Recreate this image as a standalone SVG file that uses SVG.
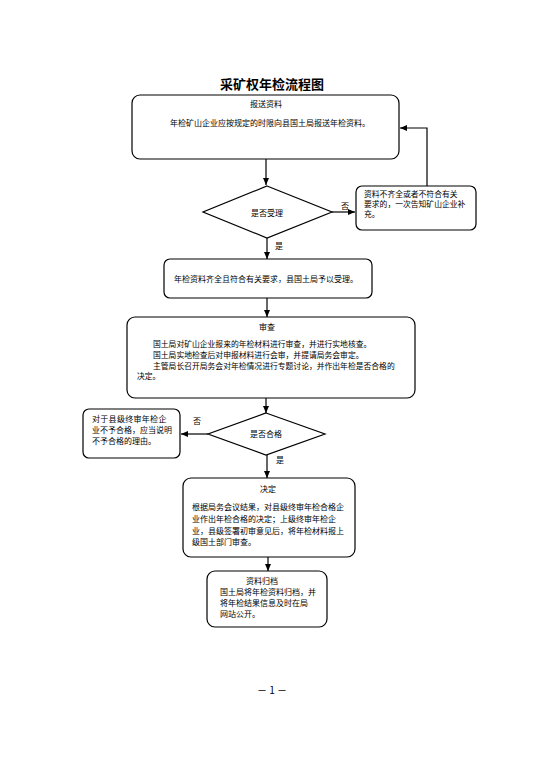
<svg xmlns="http://www.w3.org/2000/svg" width="542" height="768" viewBox="0 0 542 768">
<style>
.box{fill:#fff;stroke:#000;stroke-width:1.2}
.t{font-family:"Noto Sans CJK SC",sans-serif;font-size:8px;fill:#000}
.s{font-size:7.8px}
.c{text-anchor:middle}
.ln{stroke:#000;stroke-width:1.2;fill:none}
</style>
<defs>
<marker id="ah" markerWidth="8" markerHeight="8" refX="7" refY="4" orient="auto" markerUnits="userSpaceOnUse">
<path d="M0,1 L7,4 L0,7 Z" fill="#000"/>
</marker>
</defs>
<rect width="542" height="768" fill="#fff"/>
<text x="272" y="89" text-anchor="middle" font-family="Noto Sans CJK SC,sans-serif" font-size="13" font-weight="bold">采矿权年检流程图</text>

<g id="connectors">
<line class="ln" x1="266" y1="159" x2="266" y2="185" marker-end="url(#ah)"/>
<line class="ln" x1="332" y1="212" x2="355" y2="212" marker-end="url(#ah)"/>
<polyline class="ln" points="427,186 427,128 400,128" marker-end="url(#ah)"/>
<line class="ln" x1="267" y1="238" x2="267" y2="259" marker-end="url(#ah)"/>
<line class="ln" x1="267" y1="298" x2="267" y2="317" marker-end="url(#ah)"/>
<line class="ln" x1="266" y1="398" x2="266" y2="413" marker-end="url(#ah)"/>
<line class="ln" x1="208" y1="434" x2="181" y2="434" marker-end="url(#ah)"/>
<line class="ln" x1="267" y1="455" x2="267" y2="478" marker-end="url(#ah)"/>
<line class="ln" x1="268" y1="557" x2="268" y2="571" marker-end="url(#ah)"/>
<text class="t" x="341" y="209">否</text>
<text class="t" x="275" y="249">是</text>
<text class="t" x="193" y="424">否</text>
<text class="t" x="276" y="463">是</text>
</g>

<g id="n1">
<rect class="box" x="132" y="95" width="267" height="64" rx="8"/>
<text class="t c" x="266" y="107">报送资料</text>
<text class="t" x="170" y="126">年检矿山企业应按规定的时限向县国土局报送年检资料。</text>
</g>

<g id="d1">
<polygon class="box" points="267,186 332,212 267,238 203,212"/>
<text class="t c" x="267" y="216">是否受理</text>
</g>

<g id="n2">
<rect class="box" x="356" y="186" width="120" height="44" rx="6"/>
<text class="t s" x="364" y="197">资料不齐全或者不符合有关</text>
<text class="t s" x="364" y="207">要求的，一次告知矿山企业补</text>
<text class="t s" x="364" y="217">充。</text>
</g>

<g id="n3">
<rect class="box" x="164" y="259" width="208" height="39" rx="6"/>
<text class="t" x="174" y="282">年检资料齐全且符合有关要求，县国土局予以受理。</text>
</g>

<g id="n4">
<rect class="box" x="127" y="317" width="288" height="81" rx="8"/>
<text class="t c" x="267" y="330">审查</text>
<text class="t s" x="153" y="347">国土局对矿山企业报来的年检材料进行审查，并进行实地核查。</text>
<text class="t s" x="153" y="358">国土局实地检查后对申报材料进行会审，并提请局务会审定。</text>
<text class="t s" x="153" y="369">主管局长召开局务会对年检情况进行专题讨论，并作出年检是否合格的</text>
<text class="t s" x="137" y="379">决定。</text>
</g>

<g id="d2">
<polygon class="box" points="266,413 325,434 266,455 208,434"/>
<text class="t c" x="266" y="437">是否合格</text>
</g>

<g id="n5">
<rect class="box" x="83" y="409" width="97" height="49" rx="6"/>
<text class="t" x="92" y="422" letter-spacing="0.3">对于县级终审年检企</text>
<text class="t" x="92" y="433">业不予合格，应当说明</text>
<text class="t" x="92" y="444">不予合格的理由。</text>
</g>

<g id="n6">
<rect class="box" x="183" y="478" width="172" height="79" rx="8"/>
<text class="t c" x="268" y="492">决定</text>
<text class="t" x="192" y="510">根据局务会议结果，对县级终审年检合格企</text>
<text class="t" x="192" y="522">业作出年检合格的决定；上级终审年检企</text>
<text class="t" x="192" y="534">业，县级签署初审意见后，将年检材料报上</text>
<text class="t" x="192" y="545">级国土部门审查。</text>
</g>

<g id="n7">
<rect class="box" x="207" y="571" width="120" height="56" rx="8"/>
<text class="t" x="246" y="584">资料归档</text>
<text class="t" x="220" y="595">国土局将年检资料归档，并</text>
<text class="t" x="220" y="606">将年检结果信息及时在局</text>
<text class="t" x="220" y="617">网站公开。</text>
</g>

<text x="272" y="694" text-anchor="middle" font-family="Noto Sans CJK SC,sans-serif" font-size="10">－ 1 －</text>
</svg>
